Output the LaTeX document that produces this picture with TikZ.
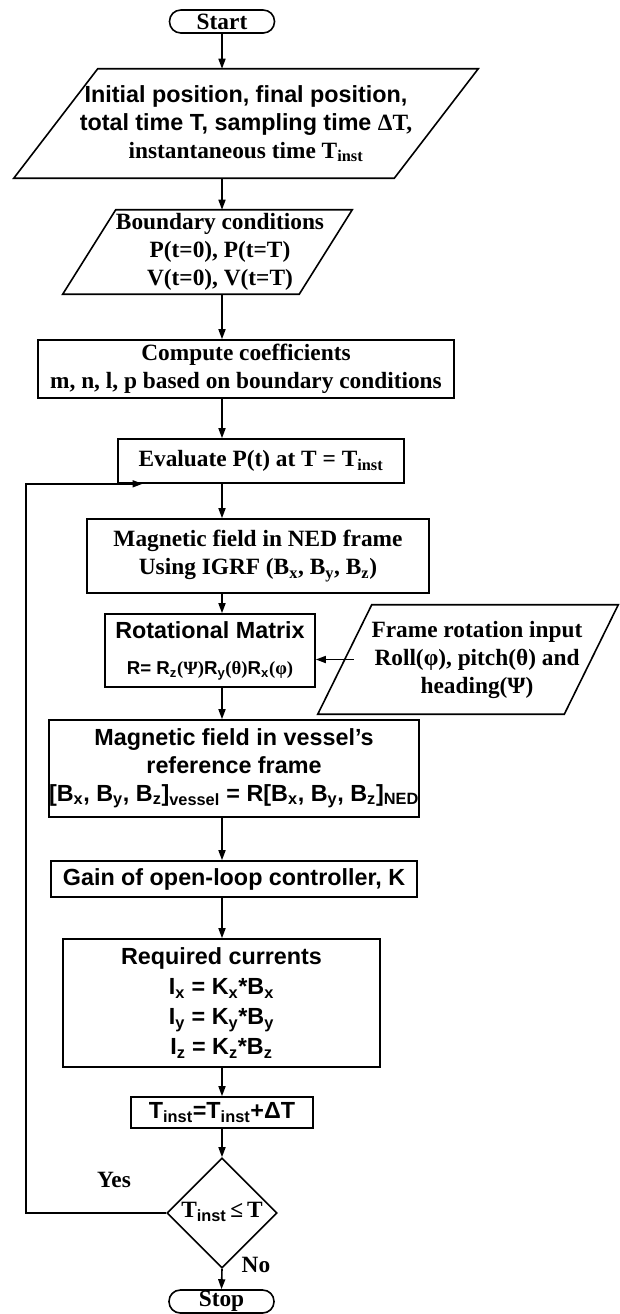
\documentclass[tikz,border=0pt]{standalone}
\usepackage{fontspec}
\setmainfont{Liberation Serif}
\setsansfont{Liberation Sans}
\usetikzlibrary{positioning,arrows.meta,shapes.geometric}

% parallelogram drawn round a plain node (optional shift of the outline)
\newcommand{\ioshape}[3][0pt]{%
  \draw[line width=1.2pt] ([xshift=#1+#3]#2.north west) -- ([xshift=#1+#3]#2.north east)
    -- ([xshift=#1-#3]#2.south east) -- ([xshift=#1-#3]#2.south west) -- cycle;}
\newcommand{\inst}{\textsubscript{inst}}

\begin{document}
\begin{tikzpicture}[
    x=0.75pt, y=-0.75pt,
    >={Triangle[length=7.5pt,width=5.25pt]},
    every node/.style={font=\fontsize{17.5}{21}\selectfont\bfseries},
    box/.style={draw, line width=1.2pt, align=center, inner sep=0pt},
    sans/.style={font=\fontsize{17.5}{21}\selectfont\bfseries\sffamily},
    term/.style={box, rounded corners=8.5pt, minimum width=78.75pt, minimum height=17.25pt},
    io/.style={align=center, inner sep=0pt},
    line/.style={line width=1.2pt, ->}
]
    \useasboundingbox (0,0) rectangle (619,1314);

    % Coluna principal
    \node[term] (start) at (222,21.5) {Start};
    \node[io, minimum width=285pt, minimum height=81.75pt] (init) at (246,123.5)
        {{\sffamily Initial position, final position,}\\{\sffamily total time T, sampling time }ΔT,\\instantaneous time T\inst};
    \ioshape{init}{31.5pt}
    \node[io, minimum width=177pt, minimum height=63pt] (bound) at (220,252)
        {Boundary conditions\\P(t=0), P(t=T)\\V(t=0), V(t=T)};
    \ioshape[-9.4pt]{bound}{19.9pt}
    \node[box, minimum width=312pt, minimum height=43.5pt] (coef) at (246,369)
        {Compute coefficients\\m, n, l, p based on boundary conditions};
    \node[box, minimum width=214.5pt, minimum height=33pt] (eval) at (261,461)
        {Evaluate P(t) at T = T\inst};
    \node[box, minimum width=256.5pt, minimum height=55.5pt] (ned) at (258,556)
        {Magnetic field in NED frame\\Using IGRF (B\textsubscript{x}, B\textsubscript{y}, B\textsubscript{z})};
    \node[box, sans, minimum width=157.5pt, minimum height=54.75pt] (rot) at (210,650.5)
        {Rotational Matrix\\[6pt]{\fontsize{14}{17}\selectfont R= R\textsubscript{z}{\rmfamily(Ψ)}R\textsubscript{y}{\rmfamily(θ)}R\textsubscript{x}{\rmfamily(φ)}}};
    \node[io, minimum width=184.5pt, minimum height=81.75pt] (frame) at (477,659.5)
        {Frame rotation input\\Roll(φ), pitch(θ) and\\heading(Ψ)};
    \ioshape[-6.75pt]{frame}{20.25pt}
    \node[box, sans, minimum width=274.5pt, minimum height=72.75pt] (vessel) at (234,768.5)
        {Magnetic field in vessel’s\\reference frame\\{}[B\textsubscript{x}, B\textsubscript{y}, B\textsubscript{z}]\textsubscript{vessel} = R[B\textsubscript{x}, B\textsubscript{y}, B\textsubscript{z}]\textsubscript{NED}};
    \node[box, sans, minimum width=274.5pt, minimum height=27pt] (gain) at (234,879)
        {Gain of open-loop controller, K};
    \node[box, sans, font=\fontsize{17.5}{22.5}\selectfont\bfseries\sffamily,
          minimum width=237.75pt, minimum height=96pt] (req) at (221.5,1003)
        {Required currents\\I\textsubscript{x} = K\textsubscript{x}*B\textsubscript{x}\\I\textsubscript{y} = K\textsubscript{y}*B\textsubscript{y}\\I\textsubscript{z} = K\textsubscript{z}*B\textsubscript{z}};
    \node[box, sans, minimum width=136.5pt, minimum height=23.25pt] (incr) at (222,1112.5)
        {T\inst=T\inst+ΔT};
    \node[draw, diamond, aspect=1, line width=1.2pt, inner sep=0pt,
          minimum width=82.5pt, minimum height=82.5pt] (check) at (222,1213)
        {\raisebox{5pt}{T{\sffamily\textsubscript{inst}}\,≤\,T}};
    \node[term] (stop) at (221.5,1301.5) {Stop};
    \node (yes) at (114,1180) {Yes};
    \node (no) at (256,1265) {No};
    \coordinate (back) at (26,1213);

    % Setas
    \draw[line] (start.south) -- (start |- init.north);
    \draw[line] (start |- init.south) -- (start |- bound.north);
    \draw[line] (start |- bound.south) -- (start |- coef.north);
    \draw[line] (start |- coef.south) -- (start |- eval.north);
    \draw[line] (start |- eval.south) -- (start |- ned.north);
    \draw[line] (start |- ned.south) -- (start |- rot.north);
    \draw[line] (start |- rot.south) -- (start |- vessel.north);
    \draw[line] (start |- vessel.south) -- (start |- gain.north);
    \draw[line] (start |- gain.south) -- (start |- req.north);
    \draw[line] (start |- req.south) -- (start |- incr.north);
    \draw[line] (incr.south) -- (check.north);
    \draw[line] (check.south) -- (stop.north);
    \draw[line] (frame.west) -- (frame.west -| rot.east);
    \draw[line] (check.west) -- (back) |- ([xshift=19pt]eval.south west);
\end{tikzpicture}
\end{document}
